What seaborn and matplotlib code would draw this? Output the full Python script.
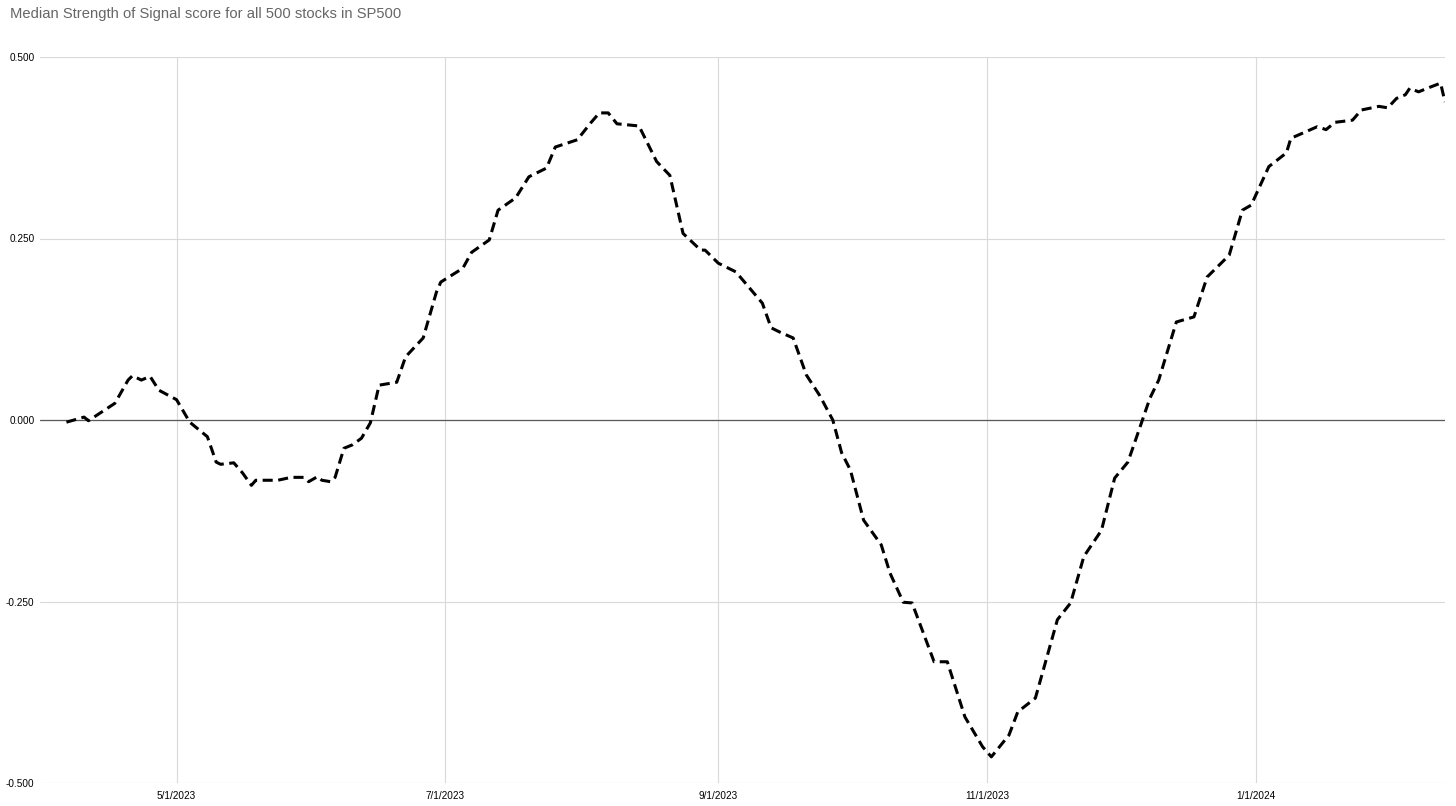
import pandas as pd
import matplotlib
matplotlib.use("Agg")
import matplotlib.pyplot as plt
import matplotlib.dates as mdates
from matplotlib.ticker import FuncFormatter, FixedLocator
import seaborn as sns

# Median Strength of Signal score
dates = [
    "2023-04-06", "2023-04-10", "2023-04-11", "2023-04-17", "2023-04-20", "2023-04-21",
    "2023-04-23", "2023-04-25", "2023-04-27", "2023-05-01", "2023-05-04", "2023-05-08",
    "2023-05-10", "2023-05-11", "2023-05-14", "2023-05-16", "2023-05-18", "2023-05-19",
    "2023-05-24", "2023-05-27", "2023-05-30", "2023-05-31", "2023-06-02", "2023-06-03",
    "2023-06-05", "2023-06-06", "2023-06-08", "2023-06-10", "2023-06-12", "2023-06-14",
    "2023-06-16", "2023-06-20", "2023-06-22", "2023-06-26", "2023-06-29", "2023-06-30",
    "2023-07-05", "2023-07-07", "2023-07-11", "2023-07-13", "2023-07-17", "2023-07-20",
    "2023-07-24", "2023-07-26", "2023-07-31", "2023-08-03", "2023-08-05", "2023-08-07",
    "2023-08-09", "2023-08-14", "2023-08-18", "2023-08-21", "2023-08-24", "2023-08-28",
    "2023-08-29", "2023-09-01", "2023-09-05", "2023-09-11", "2023-09-13", "2023-09-15",
    "2023-09-18", "2023-09-21", "2023-09-24", "2023-09-27", "2023-09-29", "2023-10-01",
    "2023-10-04", "2023-10-08", "2023-10-10", "2023-10-13", "2023-10-15", "2023-10-20",
    "2023-10-23", "2023-10-27", "2023-10-31", "2023-11-02", "2023-11-06", "2023-11-08",
    "2023-11-12", "2023-11-17", "2023-11-20", "2023-11-23", "2023-11-27", "2023-11-28",
    "2023-11-30", "2023-12-03", "2023-12-05", "2023-12-08", "2023-12-10", "2023-12-14",
    "2023-12-18", "2023-12-21", "2023-12-26", "2023-12-29", "2023-12-31", "2024-01-04",
    "2024-01-08", "2024-01-09", "2024-01-15", "2024-01-17", "2024-01-19", "2024-01-23",
    "2024-01-25", "2024-01-29", "2024-01-31", "2024-02-02", "2024-02-04", "2024-02-05",
    "2024-02-07", "2024-02-09", "2024-02-12", "2024-02-13",
]
scores = [
    -0.003, 0.004, -0.001, 0.023, 0.055, 0.061,
    0.055, 0.060, 0.041, 0.028, -0.003, -0.023,
    -0.058, -0.061, -0.059, -0.073, -0.090, -0.083,
    -0.083, -0.079, -0.079, -0.085, -0.078, -0.083,
    -0.085, -0.079, -0.039, -0.034, -0.025, -0.004,
    0.048, 0.052, 0.087, 0.113, 0.176, 0.190,
    0.209, 0.231, 0.248, 0.289, 0.306, 0.335,
    0.347, 0.376, 0.386, 0.409, 0.423, 0.423,
    0.408, 0.405, 0.356, 0.337, 0.257, 0.234,
    0.234, 0.216, 0.204, 0.161, 0.127, 0.121,
    0.113, 0.062, 0.034, 0.000, -0.045, -0.069,
    -0.138, -0.172, -0.211, -0.251, -0.252, -0.333,
    -0.333, -0.409, -0.450, -0.464, -0.434, -0.402,
    -0.383, -0.275, -0.252, -0.188, -0.152, -0.128,
    -0.080, -0.058, -0.023, 0.030, 0.055, 0.135,
    0.142, 0.197, 0.227, 0.289, 0.296, 0.349,
    0.368, 0.388, 0.404, 0.400, 0.410, 0.413,
    0.427, 0.432, 0.430, 0.443, 0.448, 0.457,
    0.452, 0.457, 0.464, 0.438,
]
y_ticks = [-0.5, -0.25, 0.0, 0.25, 0.5]
x_ticks = ["2023-05-01", "2023-07-01", "2023-09-01", "2023-11-01", "2024-01-01"]
title = "Median Strength of Signal score for all 500 stocks in SP500"

df = pd.DataFrame({"date": pd.to_datetime(dates), "score": scores})

sns.set_style("white")
plt.rcParams["font.family"] = ["Liberation Sans", "DejaVu Sans"]

fig = plt.figure(figsize=(14.56, 8.06), dpi=100)
ax = fig.add_axes([40 / 1456, 1 - 783 / 806, 1405 / 1456, 726 / 806])

# grid + zero line
grid_c = "#d9d9d9"
ax.set_yticks(y_ticks)
ax.xaxis.set_major_locator(FixedLocator(mdates.date2num(pd.to_datetime(x_ticks))))
ax.grid(True, color=grid_c, lw=0.8)
ax.axhline(0, color="#5a5a5a", lw=0.9, zorder=1)

sns.lineplot(data=df, x="date", y="score", ax=ax, color="black", lw=2.2, zorder=3)
ax.lines[-1].set_dashes([3.3, 1.8])

ax.set_xlim(pd.Timestamp("2023-03-31"), pd.Timestamp("2024-02-13"))
ax.set_ylim(-0.5, 0.5)
ax.xaxis.set_major_formatter(FuncFormatter(
    lambda v, pos: "{d.month}/{d.day}/{d.year}".format(d=mdates.num2date(v))))
ax.yaxis.set_major_formatter(FuncFormatter(lambda v, pos: "%.3f" % v))
ax.tick_params(axis="both", length=0, labelsize=7.2, colors="black")
ax.tick_params(axis="y", pad=4)
ax.tick_params(axis="x", pad=6)
ax.set_xlabel("")
ax.set_ylabel("")

for s in ax.spines.values():
    s.set_visible(False)

fig.text(10 / 1456, 1 - 14 / 806, title, fontsize=10.6, color="#666666", va="center", ha="left")

fig.savefig("out.png", dpi=100)
